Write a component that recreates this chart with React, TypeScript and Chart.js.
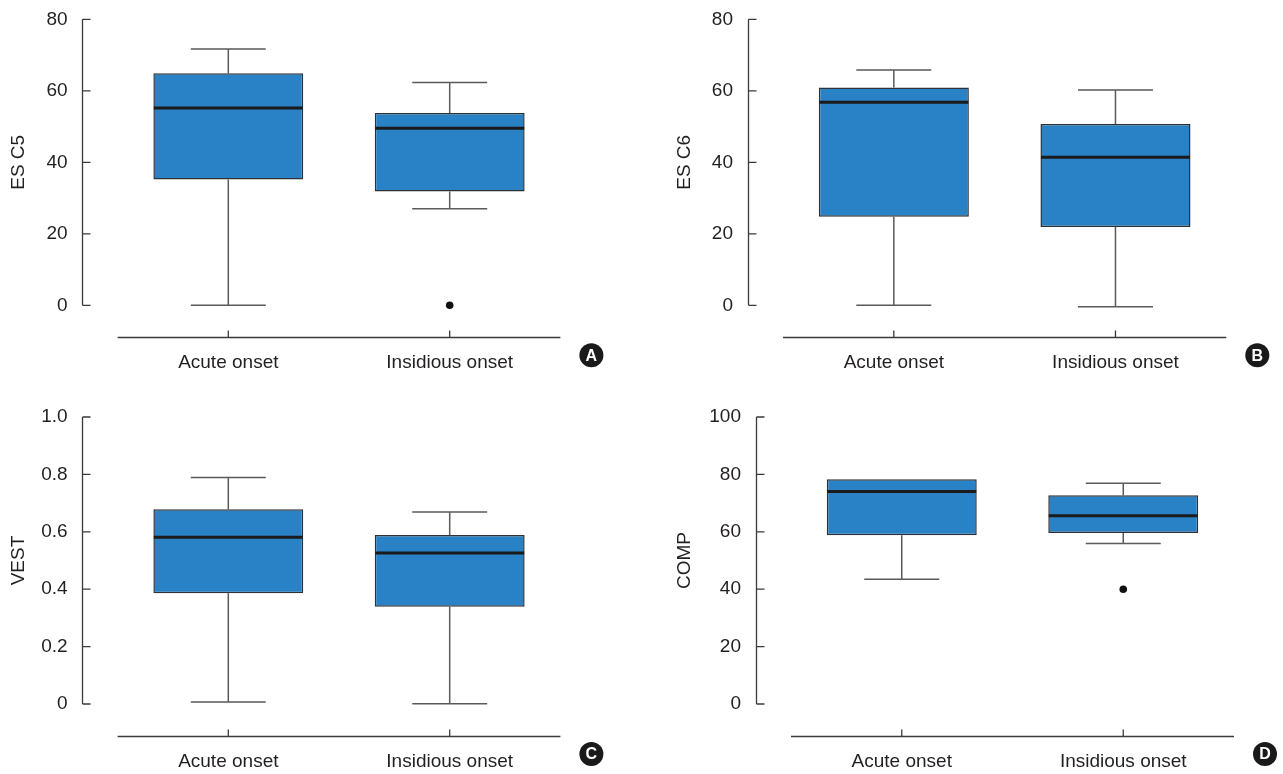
import React, { useEffect, useRef } from "react";
import { Chart, registerables } from "chart.js";

Chart.register(...registerables);

// ---------- data ----------
const categories = ["Acute onset", "Insidious onset"];

// Panel A: ES C5
const escMin5 = [0, 27.0];
const escQ1_5 = [35.2, 31.8];
const escMed5 = [55.2, 49.5];
const escQ3_5 = [64.9, 53.8];
const escMax5 = [71.7, 62.3];
const escOut5 = [null, 0];
const escTicks5 = [0, 20, 40, 60, 80];

// Panel B: ES C6
const escMin6 = [0, -0.4];
const escQ1_6 = [24.8, 21.9];
const escMed6 = [56.8, 41.4];
const escQ3_6 = [60.9, 50.7];
const escMax6 = [65.8, 60.2];
const escOut6 = [null, null];
const escTicks6 = [0, 20, 40, 60, 80];

// Panel C: VEST
const vestMin = [0.007, 0.001];
const vestQ1 = [0.386, 0.339];
const vestMed = [0.581, 0.526];
const vestQ3 = [0.679, 0.589];
const vestMax = [0.789, 0.669];
const vestOut = [null, null];
const vestTicks = [0, 0.2, 0.4, 0.6, 0.8, 1.0];

// Panel D: COMP
const compMin = [43.5, 55.9];
const compQ1 = [58.8, 59.6];
const compMed = [74.0, 65.6];
const compQ3 = [78.3, 72.7];
const compMax = [78.3, 76.9];
const compOut = [null, 40];
const compTicks = [0, 20, 40, 60, 80, 100];

// ---------- styles ----------
const FONT = "'Liberation Sans', Arial, Helvetica, sans-serif";
const TEXT = "#231f20";
const BOX_FILL = "#2981c6";
const BOX_EDGE = "#2e3136";
const WHISKER = "#5a5a5a";
const MEDIAN = "#1b1b1b";
const AXIS = "#3a3a3a";

type Panel = {
  key: string;
  title: string;
  letter: string;
  left: number;
  top: number;
  width: number;
  height: number;
  chartLeft: number;
  chartRight: number;
  chartTop: number;
  chartBottom: number;
  titlePad: number;
  yMin: number;
  yMax: number;
  ticks: number[];
  decimals: number;
  lo: number[];
  q1: number[];
  med: number[];
  q3: number[];
  hi: number[];
  out: (number | null)[];
};

const panels: Panel[] = [
  {
    key: "A", title: "ES C5", letter: "A",
    left: 0, top: 0, width: 640, height: 387,
    chartLeft: 117.6, chartRight: 560.4, chartTop: 19.3, chartBottom: 305.3, titlePad: 7,
    yMin: 0, yMax: 80, ticks: escTicks5, decimals: 0,
    lo: escMin5, q1: escQ1_5, med: escMed5, q3: escQ3_5, hi: escMax5, out: escOut5,
  },
  {
    key: "B", title: "ES C6", letter: "B",
    left: 640, top: 0, width: 643, height: 387,
    chartLeft: 143, chartRight: 586.3, chartTop: 19.3, chartBottom: 305.3, titlePad: 33,
    yMin: 0, yMax: 80, ticks: escTicks6, decimals: 0,
    lo: escMin6, q1: escQ1_6, med: escMed6, q3: escQ3_6, hi: escMax6, out: escOut6,
  },
  {
    key: "C", title: "VEST", letter: "C",
    left: 0, top: 387, width: 640, height: 387,
    chartLeft: 117.6, chartRight: 560.4, chartTop: 30, chartBottom: 317, titlePad: 7,
    yMin: 0, yMax: 1, ticks: vestTicks, decimals: 1,
    lo: vestMin, q1: vestQ1, med: vestMed, q3: vestQ3, hi: vestMax, out: vestOut,
  },
  {
    key: "D", title: "COMP", letter: "D",
    left: 640, top: 387, width: 643, height: 387,
    chartLeft: 151, chartRight: 594, chartTop: 30, chartBottom: 317, titlePad: 33,
    yMin: 0, yMax: 100, ticks: compTicks, decimals: 0,
    lo: compMin, q1: compQ1, med: compMed, q3: compQ3, hi: compMax, out: compOut,
  },
];

function makeExtras(p: Panel) {
  const AXIS_GAP = 35.3;
  const XAXIS_DROP = 31.5;
  return {
    id: "boxExtras" + p.key,
    beforeDatasetsDraw(chart: any) {
      const { ctx, chartArea } = chart;
      const xs = chart.scales.x;
      const ys = chart.scales.y;
      ctx.save();
      // y axis line + inward ticks
      const ax = Math.round(chartArea.left - AXIS_GAP) + 0.5;
      ctx.strokeStyle = AXIS;
      ctx.lineWidth = 1.3;
      ctx.beginPath();
      ctx.moveTo(ax, ys.getPixelForValue(p.yMin));
      ctx.lineTo(ax, ys.getPixelForValue(p.yMax));
      p.ticks.forEach((t) => {
        const y = ys.getPixelForValue(t);
        ctx.moveTo(ax, y);
        ctx.lineTo(ax + 8, y);
      });
      ctx.stroke();
      // x axis line + category ticks
      const ay = Math.round(chartArea.bottom + XAXIS_DROP) + 0.5;
      ctx.beginPath();
      ctx.moveTo(chartArea.left, ay);
      ctx.lineTo(chartArea.right, ay);
      categories.forEach((_, i) => {
        const x = xs.getPixelForValue(i);
        ctx.moveTo(x, ay);
        ctx.lineTo(x, ay - 7);
      });
      ctx.stroke();
      // whiskers
      const meta = chart.getDatasetMeta(0);
      ctx.strokeStyle = WHISKER;
      ctx.lineWidth = 1.5;
      categories.forEach((_, i) => {
        const bar = meta.data[i];
        const cx = xs.getPixelForValue(i);
        const half = bar.width / 4;
        ctx.beginPath();
        if (p.hi[i] > p.q3[i]) {
          ctx.moveTo(cx, ys.getPixelForValue(p.q3[i]));
          ctx.lineTo(cx, ys.getPixelForValue(p.hi[i]));
          ctx.moveTo(cx - half, ys.getPixelForValue(p.hi[i]));
          ctx.lineTo(cx + half, ys.getPixelForValue(p.hi[i]));
        }
        if (p.lo[i] < p.q1[i]) {
          ctx.moveTo(cx, ys.getPixelForValue(p.q1[i]));
          ctx.lineTo(cx, ys.getPixelForValue(p.lo[i]));
          ctx.moveTo(cx - half, ys.getPixelForValue(p.lo[i]));
          ctx.lineTo(cx + half, ys.getPixelForValue(p.lo[i]));
        }
        ctx.stroke();
      });
      ctx.restore();
    },
    afterDatasetsDraw(chart: any) {
      const { ctx, chartArea } = chart;
      const xs = chart.scales.x;
      const ys = chart.scales.y;
      const meta = chart.getDatasetMeta(0);
      ctx.save();
      ctx.strokeStyle = MEDIAN;
      ctx.lineWidth = 3;
      categories.forEach((_, i) => {
        const bar = meta.data[i];
        const cx = xs.getPixelForValue(i);
        const y = ys.getPixelForValue(p.med[i]);
        ctx.beginPath();
        ctx.moveTo(cx - bar.width / 2 + 0.5, y);
        ctx.lineTo(cx + bar.width / 2 - 0.5, y);
        ctx.stroke();
      });
      // panel letter badge
      const bx = chartArea.right + 31;
      const by = chartArea.bottom + 50;
      ctx.fillStyle = "#1a1a1a";
      ctx.beginPath();
      ctx.arc(bx, by, 12, 0, Math.PI * 2);
      ctx.fill();
      ctx.fillStyle = "#ffffff";
      ctx.font = `bold 16px ${FONT}`;
      ctx.textAlign = "center";
      ctx.textBaseline = "middle";
      ctx.fillText(p.letter, bx, by + 1);
      ctx.restore();
    },
  };
}

function PanelChart({ p }: { p: Panel }) {
  const ref = useRef<HTMLCanvasElement | null>(null);
  useEffect(() => {
    if (!ref.current) return;
    const chart = new Chart(ref.current, {
      type: "bar",
      data: {
        labels: categories,
        datasets: [
          {
            type: "bar",
            data: p.q1.map((v, i) => [v, p.q3[i]]) as any,
            backgroundColor: BOX_FILL,
            borderColor: BOX_EDGE,
            borderWidth: 1.5,
            borderSkipped: false,
            barPercentage: 0.677,
            categoryPercentage: 1,
          } as any,
          {
            type: "line",
            data: p.out as any,
            showLine: false,
            clip: false,
            pointRadius: 3.8,
            pointBackgroundColor: "#111111",
            pointBorderWidth: 0,
          } as any,
        ],
      },
      options: {
        animation: false,
        responsive: false,
        events: [],
        layout: {
          padding: {
            left: 0,
            top: p.chartTop,
            right: p.width - p.chartRight,
            bottom: 0,
          },
        },
        plugins: {
          legend: { display: false },
          tooltip: { enabled: false },
        },
        scales: {
          x: {
            type: "category",
            offset: true,
            grid: { display: false, drawTicks: false },
            border: { display: false },
            ticks: {
              padding: 46.5,
              color: TEXT,
              font: { family: FONT, size: 19 },
              maxRotation: 0,
            },
            afterFit: (s: any) => {
              s.height = p.height - p.chartBottom;
              s.paddingLeft = 0;
              s.paddingRight = 0;
            },
          },
          y: {
            type: "linear",
            min: p.yMin,
            max: p.yMax,
            grid: { display: false, drawTicks: false },
            border: { display: false },
            afterBuildTicks: (s: any) => {
              s.ticks = p.ticks.map((v) => ({ value: v }));
            },
            ticks: {
              padding: 50,
              color: TEXT,
              font: { family: FONT, size: 19 },
              callback: (v: any) => (Number(v) === 0 ? "0" : Number(v).toFixed(p.decimals)),
            },
            title: {
              display: true,
              text: p.title,
              color: TEXT,
              font: { family: FONT, size: 19 },
              padding: { top: p.titlePad, bottom: 0 },
            },
            afterFit: (s: any) => {
              s.width = p.chartLeft;
              s.paddingTop = 0;
              s.paddingBottom = 0;
            },
          },
        },
      } as any,
      plugins: [makeExtras(p)],
    });
    return () => chart.destroy();
  }, [p]);
  return (
    <canvas
      ref={ref}
      width={p.width}
      height={p.height}
      style={{
        position: "absolute",
        left: p.left,
        top: p.top,
        width: p.width,
        height: p.height,
      }}
    />
  );
}

export default function App() {
  return (
    <div
      style={{
        position: "fixed",
        left: 0,
        top: 0,
        width: 1283,
        height: 774,
        background: "#ffffff",
        overflow: "hidden",
      }}
    >
      {panels.map((p) => (
        <PanelChart key={p.key} p={p} />
      ))}
    </div>
  );
}
